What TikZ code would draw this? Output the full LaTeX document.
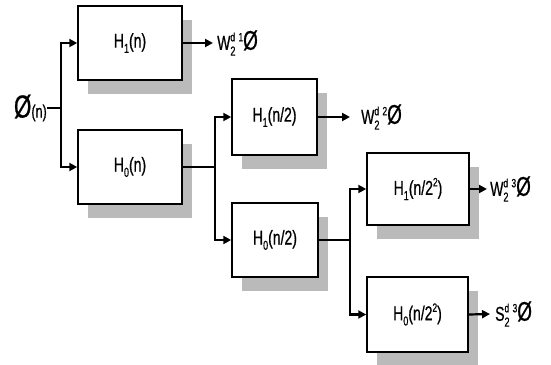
\documentclass[tikz,border=0pt]{standalone}
\usepackage{fontspec}
\setmainfont[FakeStretch=0.7,FakeBold=0.6]{Liberation Sans}
\usetikzlibrary{arrows.meta,shadows}

% stacked sup/sub after a letter, e.g. W^d_2
\newcommand{\supsub}[2]{\rlap{\raisebox{0.8ex}{\fontsize{12}{12}\selectfont #1}}\raisebox{-0.55ex}{\fontsize{13}{13}\selectfont #2}\hspace{3pt}}
\newcommand{\lowidx}[1]{\raisebox{-0.5ex}{\fontsize{13}{13}\selectfont #1}}
\newcommand{\highidx}[1]{\raisebox{0.8ex}{\fontsize{12}{12}\selectfont #1}}
\newcommand{\bigphi}{{\fontsize{27}{27}\selectfont Ø}}

\begin{document}
\begin{tikzpicture}[x=1pt,y=-1pt,
  filt/.style={draw, line width=1.5pt, fill=white, inner sep=0pt,
    font=\fontsize{20}{22}\selectfont,
    drop shadow={shadow xshift=10pt, shadow yshift=-14pt, fill=black!27, opacity=1}},
  conn/.style={line width=2.2pt},
  arr/.style={conn, -{Triangle[length=8pt,width=8pt]}},
  outlbl/.style={anchor=west, inner sep=0pt, font=\fontsize{20}{22}\selectfont}]
\useasboundingbox (0,0) rectangle (551,364);

% filter blocks
\node[filt, minimum width=104pt, minimum height=74pt] (H1n)  at (130,43)    {H\lowidx{1}(n)};
\node[filt, minimum width=104pt, minimum height=74pt] (H0n)  at (130,167)   {H\lowidx{0}(n)};
\node[filt, minimum width=85pt,  minimum height=76pt] (H1n2) at (274.5,117) {H\lowidx{1}(n/2)};
\node[filt, minimum width=86pt,  minimum height=74pt] (H0n2) at (275,240)   {H\lowidx{0}(n/2)};
\node[filt, minimum width=102pt, minimum height=72pt] (H1n4) at (418,189)   {H\lowidx{1}(n/2\highidx{2})};
\node[filt, minimum width=101pt, minimum height=75pt] (H0n4) at (417.5,314.5) {H\lowidx{0}(n/2\highidx{2})};

% input signal
\node[anchor=east, inner sep=0pt, font=\fontsize{18}{20}\selectfont] (in) at (47,108)
  {{\fontsize{32}{32}\selectfont Ø}(n)};

% branch points
\coordinate (j1) at (61,108);
\coordinate (j2) at (215,167);
\coordinate (j3) at (350,240);

\draw[conn] (in.east) -- (j1);
\draw[arr] (j1) |- (H1n.west);
\draw[arr] (j1) |- (H0n.west);

\draw[conn] (H0n.east) -- (j2);
\draw[arr] (j2) |- (H1n2.west);
\draw[arr] (j2) |- (H0n2.west);

\draw[conn] (H0n2.east) -- (j3);
\draw[arr] (j3) |- (H1n4.west);
\draw[arr] (j3) |- (H0n4.west);

% outputs
\coordinate (t1) at (213,43);
\coordinate (t2) at (350,117);
\coordinate (t3) at (487,189);
\coordinate (t4) at (490,314);
\draw[arr] (H1n.east) -- (t1);
\draw[arr] (H1n2.east) -- (t2);
\draw[arr] (H1n4.east) -- (t3);
\draw[arr] (H0n4.east) -- (t4);

\node[outlbl] (o1) at ([xshift=4pt]t1) {W\supsub{d}{2}\highidx{1}\bigphi};
\node[outlbl] (o2) at ([xshift=11pt]t2) {W\supsub{d}{2}\highidx{2}\bigphi};
\node[outlbl] (o3) at ([xshift=3pt]t3) {W\supsub{d}{2}\highidx{3}\bigphi};
\node[outlbl] (o4) at ([xshift=5pt]t4) {S\supsub{d}{2}\highidx{3}\bigphi};
\end{tikzpicture}
\end{document}
